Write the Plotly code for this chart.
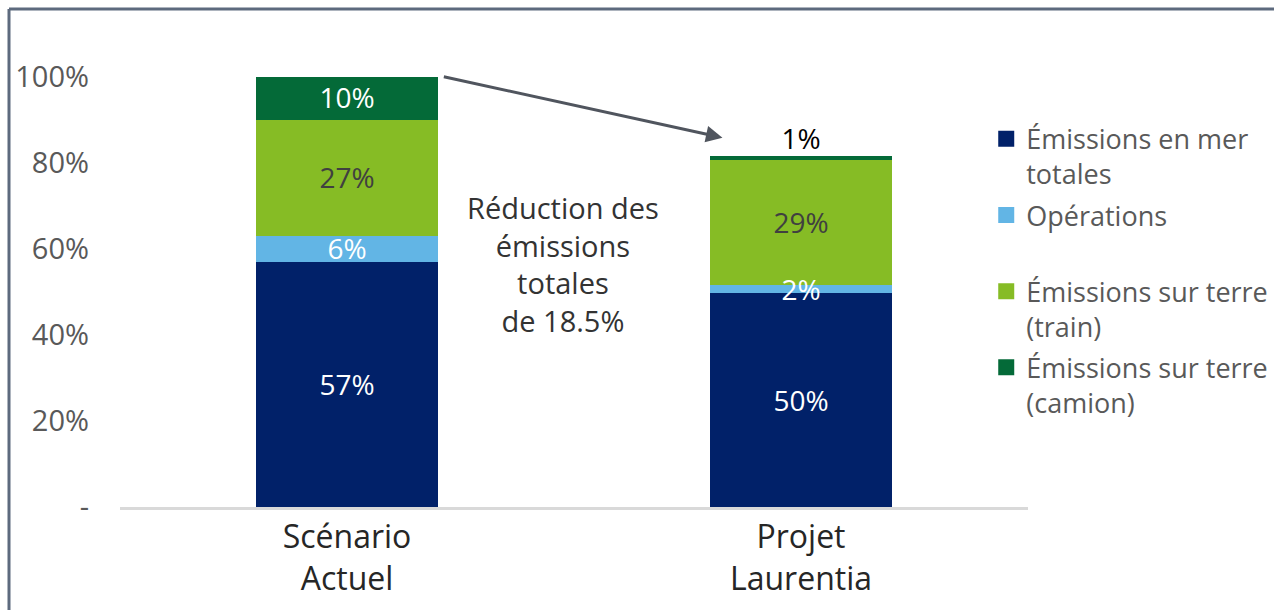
import plotly.graph_objects as go

# ---- data ----
categories = ["Scénario<br>Actuel", "Projet<br>Laurentia"]
series_names = [
    "Émissions en mer<br>totales",
    "Opérations<br> ",
    "Émissions sur terre<br>(train)",
    "Émissions sur terre<br>(camion)",
]
mer_totales = [57.0, 49.6]
operations = [6.0, 1.9]
terre_train = [27.0, 29.2]
terre_camion = [10.0, 0.8]
labels_mer = ["57%", "50%"]
labels_ops = ["6%", "2%"]
labels_train = ["27%", "29%"]
labels_camion = ["10%", "1%"]
y_tickvals = [0, 20, 40, 60, 80, 100]
y_ticktext = ["-", "20%", "40%", "60%", "80%", "100%"]
reduction_text = "Réduction des<br>émissions<br>totales<br>de 18.5%"

# ---- style ----
FONT = "Open Sans"
colors = ["#012169", "#62B5E5", "#86BC25", "#046A38"]
bar_w = 0.4
label_nudge = 0.8  # small downward nudge of centred labels (axis units)

series_vals = [mer_totales, operations, terre_train, terre_camion]
series_labels = [labels_mer, labels_ops, labels_train, labels_camion]
text_colors = [["white", "white"], ["white", "white"], ["#404040", "#404040"], ["white", "black"]]
outside = [[False, False], [False, False], [False, False], [False, True]]

fig = go.Figure()
for name, vals, col in zip(series_names, series_vals, colors):
    fig.add_trace(go.Bar(
        x=categories, y=vals, name=name, showlegend=False,
        marker=dict(color=col, line=dict(width=0)),
        width=bar_w, hoverinfo="skip",
    ))

# segment labels, drawn on top of all bars
running = [0.0] * len(categories)
for vals, labs, tcol, outs in zip(series_vals, series_labels, text_colors, outside):
    for j, cat in enumerate(categories):
        top = running[j] + vals[j]
        ypos = top if outs[j] else running[j] + vals[j] / 2 - label_nudge
        fig.add_trace(go.Scatter(
            x=[cat], y=[ypos], mode="text", text=[labs[j]],
            textposition="top center" if outs[j] else "middle center",
            textfont=dict(family=FONT, size=28, color=tcol[j]),
            showlegend=False, hoverinfo="skip", cliponaxis=False,
        ))
    running = [r + v for r, v in zip(running, vals)]
totals = running

# legend entries (square swatches)
for k, (name, col) in enumerate(zip(series_names, colors)):
    fig.add_trace(go.Scatter(
        x=[None], y=[None], mode="markers", name=name, legendgroup=f"g{k}",
        marker=dict(symbol="square", size=16, color=col),
        hoverinfo="skip",
    ))

W, H = 1274, 610
L, R, T, B = 120, 246, 40, 103
plot_h = H - T - B
px_per_unit = 4.305
y_top = plot_h / px_per_unit

fig.update_layout(
    width=W, height=H,
    barmode="stack",
    plot_bgcolor="white", paper_bgcolor="white",
    margin=dict(l=L, r=R, t=T, b=B, autoexpand=False),
    font=dict(family=FONT, color="#595959"),
    showlegend=True,
    legend=dict(
        x=0.954, y=0.84, xanchor="left", yanchor="top",
        traceorder="grouped", tracegroupgap=3, valign="top",
        font=dict(family=FONT, size=27, color="#595959"),
        bgcolor="rgba(0,0,0,0)", itemclick=False,
    ),
    xaxis=dict(
        type="category", range=[-0.5, 1.5],
        showline=True, linecolor="#d9d9d9", linewidth=3,
        showgrid=False, zeroline=False, ticks="",
        tickfont=dict(family=FONT, size=32, color="#262626"),
    ),
    yaxis=dict(
        range=[0, y_top], tickvals=y_tickvals, ticktext=y_ticktext,
        showline=False, showgrid=False, zeroline=False, ticks="",
        ticklabelstandoff=30,
        tickfont=dict(family=FONT, size=29, color="#595959"),
    ),
)

# reduction annotation
fig.add_annotation(
    x=0.476, y=56.5, xref="x", yref="y", text=reduction_text, showarrow=False,
    font=dict(family=FONT, size=29, color="#333333"), align="center",
)

# arrow between the bar tops
fig.add_annotation(
    x=1 - bar_w / 2 + 0.027, y=totals[1] + 4.3, xref="x", yref="y",
    ax=0 + bar_w / 2 + 0.01, ay=totals[0], axref="x", ayref="y",
    text="", showarrow=True, arrowhead=2, arrowsize=1.1, arrowwidth=3,
    arrowcolor="#50555e",
)

# frame (top and left edges)
def px_to_paper_x(p):
    return (p - L) / (W - L - R)

def px_to_paper_y(q):
    return (H - B - q) / plot_h

frame_col = "#5d6a7e"
fig.add_shape(type="line", xref="paper", yref="paper",
              x0=px_to_paper_x(9), x1=px_to_paper_x(W + 5),
              y0=px_to_paper_y(9), y1=px_to_paper_y(9),
              line=dict(color=frame_col, width=3))
fig.add_shape(type="line", xref="paper", yref="paper",
              x0=px_to_paper_x(9), x1=px_to_paper_x(9),
              y0=px_to_paper_y(9), y1=px_to_paper_y(H + 5),
              line=dict(color=frame_col, width=3))

fig.write_html("out.html", config={"displayModeBar": False},
               post_script="document.body.style.margin='0';document.body.style.overflow='hidden';")
